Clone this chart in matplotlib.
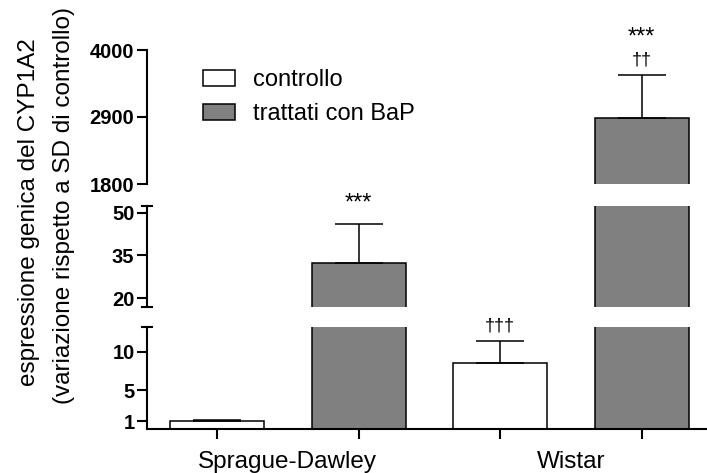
import matplotlib
matplotlib.use("Agg")
import matplotlib.pyplot as plt
from matplotlib.patches import Patch
from matplotlib.lines import Line2D

plt.rcParams['font.family'] = ['Liberation Sans', 'DejaVu Sans']

# Data
groups = ["Sprague-Dawley", "Wistar"]
series_names = ["controllo", "trattati con BaP"]
means = [1.0, 32.5, 8.6, 2890.0]       # SD ctrl, SD BaP, Wistar ctrl, Wistar BaP
errors = [0.12, 13.5, 2.85, 700.0]
bar_colors = ["white", "#808080", "white", "#808080"]
stars = ["", "***", "", "***"]
daggers = ["", "", "\u2020\u2020\u2020", "\u2020\u2020"]

# Axis segments (bottom, middle, top)
seg_limits = [(0, 13.25), (17.0, 52.5), (1800, 4000)]
seg_ticks = [[1, 5, 10], [20, 35, 50], [1800, 2900, 4000]]

W, H = 707, 473
fig = plt.figure(figsize=(W / 100, H / 100), dpi=100)

left_px, right_px = 147, 707
seg_px = [(327, 428.7), (205.7, 306.7), (50, 184)]  # top, bottom pixel per segment

bar_spacing_px = 141.5
x_first_px = 217
xlim = ((left_px - x_first_px) / bar_spacing_px, (right_px - x_first_px) / bar_spacing_px)
positions = list(range(len(means)))
bar_width = 94 / bar_spacing_px

axes = []
for i, ((top, bot), lim, ticks) in enumerate(zip(seg_px, seg_limits, seg_ticks)):
    ax = fig.add_axes([left_px / W, 1 - bot / H, (right_px - left_px) / W, (bot - top) / H])
    ax.set_xlim(*xlim)
    ax.set_ylim(*lim)
    ax.bar(positions, means, width=bar_width, color=bar_colors,
           edgecolor="black", linewidth=1.1, zorder=2)
    for x, m, e in zip(positions, means, errors):
        ax.errorbar(x, m, yerr=[[0], [e]], fmt="none", ecolor="black",
                    elinewidth=1.1, capsize=17, capthick=1.1, zorder=3)
    for s in ["top", "right"]:
        ax.spines[s].set_visible(False)
    ax.spines["left"].set_linewidth(1.5)
    ax.set_yticks(ticks)
    ax.set_yticklabels([str(t) for t in ticks], fontsize=14.5, fontweight="bold")
    ax.tick_params(axis="y", length=7, width=1.5, pad=2)
    if i == 0:
        ax.spines["bottom"].set_linewidth(1.5)
        ax.set_xticks(positions)
        ax.set_xticklabels([])
        ax.tick_params(axis="x", length=7, width=1.5)
    else:
        ax.spines["bottom"].set_visible(False)
        ax.set_xticks([])
    ax.patch.set_visible(False)
    axes.append(ax)

# Break caps at the segment ends of the y axis
for py in [seg_px[0][0], seg_px[1][0], seg_px[1][1]]:
    fig.add_artist(Line2D([(left_px - 5) / W, (left_px + 5) / W], [1 - py / H, 1 - py / H],
                          transform=fig.transFigure, color="black", lw=1.5))

# Group labels under the x axis
bottom_ax = axes[0]
for gi, g in enumerate(groups):
    xc = (positions[2 * gi] + positions[2 * gi + 1]) / 2
    bottom_ax.annotate(g, (xc, 0), xycoords=("data", "axes fraction"),
                       xytext=(0, -16), textcoords="offset points",
                       ha="center", va="top", fontsize=17.5)

# Significance marks
ann_ax = [axes[0], axes[1], axes[0], axes[2]]
for x, m, e, s, d, ax in zip(positions, means, errors, stars, daggers, ann_ax):
    top = m + e
    if d:
        ax.annotate(d, (x, top), xytext=(0, 11), textcoords="offset points",
                    ha="center", va="center", fontsize=13)
    if s:
        off = 27 if d else 15
        ax.annotate(s, (x, top), xytext=(0, off), textcoords="offset points",
                    ha="center", va="center", fontsize=17)

# Y axis title
fig.text(29 / W, 1 - 212 / H, "espressione genica del CYP1A2", rotation=90,
         ha="center", va="center", fontsize=17.5)
fig.text(64 / W, 1 - 205 / H, "(variazione rispetto a SD di controllo)", rotation=90,
         ha="center", va="center", fontsize=17.5)

# Legend
handles = [Patch(facecolor=c, edgecolor="black", linewidth=1.1) for c in bar_colors[:2]]
fig.legend(handles, series_names, loc="upper left", bbox_to_anchor=(203 / W, 1 - 69 / H),
           frameon=False, fontsize=17, handlelength=1.36, handleheight=0.64,
           handletextpad=0.76, labelspacing=0.52, borderpad=0, borderaxespad=0)

fig.savefig("out.png", dpi=100)
